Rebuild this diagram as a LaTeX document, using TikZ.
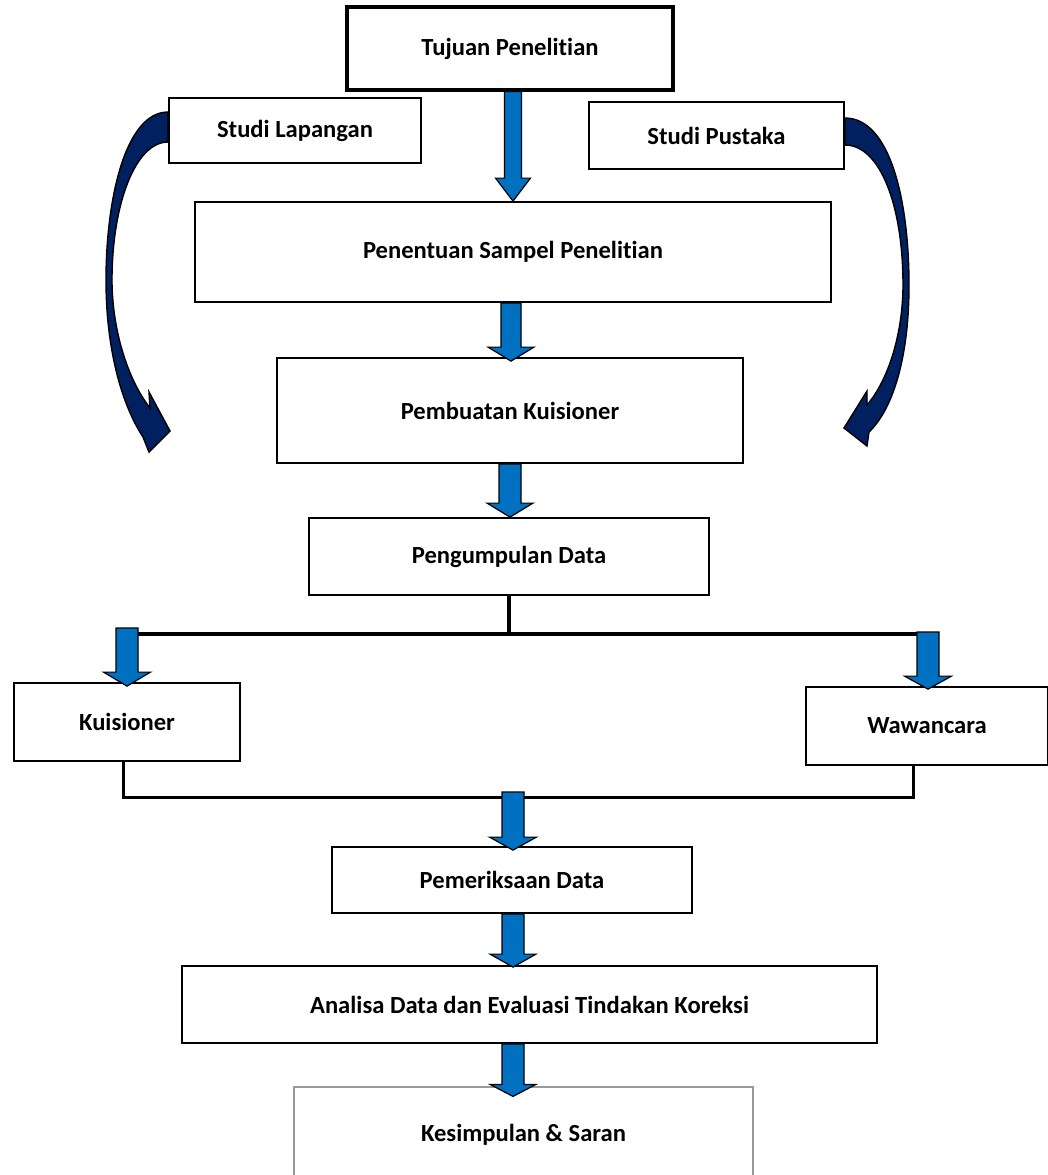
\documentclass[tikz,border=0pt]{standalone}
\usepackage{fontspec}
\setmainfont{Carlito}[Ligatures=NoCommon]
\usetikzlibrary{calc}
\definecolor{arrowblue}{HTML}{0070C0}
\definecolor{navyarrow}{HTML}{002060}
% #1 start point (its y is used), #2 tip, #3 shaft half width, #4 head half width, #5 head length
\newcommand{\blockarrow}[5]{%
  \draw[blockarr] let \p1=(#1), \p2=(#2) in
    (\x2-#3,\y1) -- (\x2+#3,\y1) -- (\x2+#3,\y2+#5) -- (\x2+#4,\y2+#5) -- (\x2,\y2)
    -- (\x2-#4,\y2+#5) -- (\x2-#3,\y2+#5) -- cycle;}
\begin{document}
\begin{tikzpicture}[x=0.5pt,y=-0.5pt,
  box/.style={draw=black, line width=0.9pt, fill=white, inner sep=0pt,
    font=\fontsize{12.3}{14}\selectfont\bfseries, align=center},
  blockarr/.style={draw=black, line width=0.6pt, fill=arrowblue, line join=miter},
  curvearr/.style={draw=black, line width=0.7pt, fill=navyarrow, line join=miter},
  bus/.style={draw=black, line width=2.2pt},
  bus2/.style={draw=black, line width=1.5pt}]
\useasboundingbox (0,0) rectangle (1048,1175);

% boxes
\node[box, line width=1.6pt, minimum width=163pt, minimum height=41.5pt] (tujuan) at (510,48.5) {Tujuan Penelitian};
\node[box, minimum width=126pt, minimum height=32.5pt] (lapangan) at (295,130.5) {Studi Lapangan};
\node[box, minimum width=127.5pt, minimum height=33.5pt] (pustaka) at (716.5,135.5) {Studi Pustaka};
\node[box, minimum width=318pt, minimum height=50pt] (penentuan) at (513,252) {Penentuan Sampel Penelitian};
\node[box, minimum width=233pt, minimum height=52.5pt] (pembuatan) at (510,410.5) {Pembuatan Kuisioner};
\node[box, minimum width=200pt, minimum height=38.5pt] (pengumpulan) at (509,556.5) {Pengumpulan Data};
\node[box, minimum width=113pt, minimum height=39pt] (kuisioner) at (127,722) {Kuisioner};
\node[box, minimum width=121pt, minimum height=39pt] (wawancara) at (927,726) {Wawancara};
\node[box, minimum width=180pt, minimum height=33pt] (pemeriksaan) at (512,880) {Pemeriksaan Data};
\node[box, minimum width=347.5pt, minimum height=38.5pt] (analisa) at (529.5,1004.5) {Analisa Data dan Evaluasi Tindakan Koreksi};
\node[box, draw=gray!80, line width=0.6pt, minimum width=229.5pt, minimum height=48pt] (kesimpulan) at (523.5,1135) {Kesimpulan \& Saran};

% bus lines
\coordinate (busL) at (118,634);
\coordinate (busR) at (918,634);
\coordinate (joinL) at (123,797);
\coordinate (joinR) at (913,797);
\draw[bus] (pengumpulan.south) -- (pengumpulan.south |- busL);
\draw[bus] (busL) -- (busR);
\draw[bus2] ($(kuisioner.south)+(-4,0)$) -- (joinL) -- (joinR) -- ($(wawancara.south)+(-14,0)$);

% block arrows
\coordinate (kuisTop) at (127,628);
\coordinate (wawTop) at (928,632);
\coordinate (midTop) at (513,792);
\blockarrow{tujuan.south}{penentuan.north}{4.25pt}{8.75pt}{11.5pt}
\blockarrow{penentuan.south}{$(pembuatan.north)+(1,4)$}{5pt}{11.5pt}{7pt}
\blockarrow{pembuatan.south}{$(pengumpulan.north)+(1,0)$}{5.5pt}{11.5pt}{7pt}
\blockarrow{kuisTop}{$(kuisioner.north)+(0,4)$}{5.5pt}{11.75pt}{7pt}
\blockarrow{wawTop}{$(wawancara.north)+(1,3)$}{5.5pt}{11.75pt}{6.5pt}
\blockarrow{midTop}{$(pemeriksaan.north)+(1,4)$}{5.5pt}{11.75pt}{6.5pt}
\blockarrow{pemeriksaan.south}{$(analisa.north)+(-16.5,2)$}{5.5pt}{11.5pt}{6.5pt}
\blockarrow{analisa.south}{$(kesimpulan.north)+(-10.5,10)$}{5.5pt}{11.5pt}{6pt}

% curved arrows
\draw[curvearr] ($(lapangan.west)+(0,-18.5)$) .. controls (125,112) and (106,200) .. (106,280)
  .. controls (106,350) and (122,405) .. (143,437) -- (149,452) -- (170,431) -- (149,392) -- (150,408)
  .. controls (128,380) and (112,330) .. (112,280)
  .. controls (112,205) and (135,142) .. ($(lapangan.west)+(0,11.5)$) -- cycle;
\draw[curvearr] ($(pustaka.east)+(0,-17.5)$) .. controls (890,118) and (909,200) .. (909,285)
  .. controls (909,360) and (892,410) .. (869,432) -- (867,446) -- (844,428) -- (867,391) -- (867,405)
  .. controls (890,378) and (903,330) .. (903,285)
  .. controls (903,205) and (880,145) .. ($(pustaka.east)+(0,9.5)$) -- cycle;
\end{tikzpicture}
\end{document}
